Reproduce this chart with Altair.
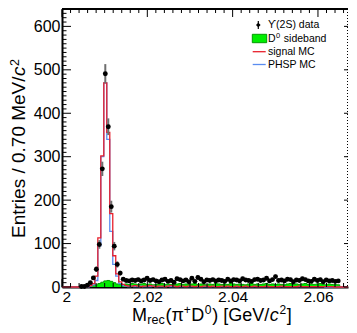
import altair as alt
import pandas as pd
import math

FONT = "Liberation Sans"
X_LO, BIN_W = 2.0, 0.0007
W, H = 286, 278
X_HI = X_LO + W / 4266.0     # keep the reference's x scale (0.02 <-> 85.3 px)
Y_HI = 640

# ---- data ----
data_first_bin = 6
data_counts = [1, 1, 4, 10, 21, 41, 98, 272, 491, 369, 185, 94, 52, 32, 18,
               15, 14, 16, 15, 17, 14, 16, 20, 15, 17,
               14, 12, 16, 18, 13, 15, 11, 19, 17, 14,
               16, 12, 20, 13, 22, 18, 12, 16, 15, 17,
               14, 16, 15, 13, 18, 14, 17, 16, 14, 19,
               16, 15, 13, 17, 18, 15, 16, 20, 14, 17,
               24, 15, 16, 14, 18, 17, 12, 16, 15, 19,
               17, 14, 13, 18, 15, 17, 12, 16, 14, 15,
               13, 14]

sideband = ([0] * 9 + [1, 3, 5, 8, 11, 14, 15, 13, 10, 7, 6, 5] +
            [7, 6, 8, 7, 6, 7, 8, 6, 7, 5, 6, 7, 8, 6, 7, 6, 5, 7, 8, 6,
             7, 6, 7, 8, 6, 7, 6, 5, 7, 6, 8, 7, 6, 7, 6, 8, 7, 6, 7, 6,
             5, 7, 8, 6, 7, 6, 7, 8, 6, 7, 6, 7, 6, 5, 7, 8, 6, 7, 6, 7,
             8, 6, 7, 6, 7, 8, 6, 5, 7, 6, 6, 5] + [0] * 5)

signal_mc = ([0] * 8 + [1, 3, 8, 25, 113, 302, 470, 356, 169, 72, 30, 12, 6] +
             [3, 2, 2, 3, 2, 1, 2, 2, 3, 2, 1, 2, 2, 1, 2, 3, 2, 1, 2, 2,
              1, 2, 2, 1, 2, 1, 2, 2, 1, 2, 1, 1, 2, 1, 2, 1, 1, 2, 1, 1,
              2, 1, 1, 2, 1, 1, 1, 2, 1, 1, 1, 1, 2, 1, 1, 1, 1, 1, 2, 1,
              1, 1, 1, 1, 1, 1, 1, 1, 1, 1, 0, 0, 0, 0, 0, 0, 0])

phsp_mc = ([0] * 9 + [2, 5, 15, 95, 300, 470, 340, 128, 52, 25, 8, 3] +
           [2, 1, 2, 1, 1, 2, 1, 1, 1, 2, 1, 1, 1, 1, 2, 1, 1, 1, 1, 1,
            1, 1, 1, 1, 1, 1, 1, 1, 1, 1, 1, 1, 1, 1, 1, 1, 1, 1, 1, 1,
            1, 1, 1, 1, 1, 1, 1, 1, 1, 1, 1, 1, 1, 1, 1, 1, 1, 1, 1, 1,
            1, 1, 1, 1, 1, 1, 1, 0, 0, 0, 0, 0, 0, 0, 0, 0, 0])

y_major = [0, 100, 200, 300, 400, 500, 600]
y_minor = [v for v in range(0, 641, 10) if v % 100 != 0]
x_major = [2.00, 2.02, 2.04, 2.06]
x_minor = [round(2.0 + 0.002 * i, 4) for i in range(35) if i % 10 != 0]
x_minor = [v for v in x_minor if v < X_HI]

# ---- tables ----
n_vis = int((X_HI - X_LO) / BIN_W)          # bins fully inside the drawn range


def step_df(vals):
    xs_ = [X_LO + BIN_W * i for i in range(n_vis + 1)] + [X_HI]
    ys_ = list(vals[:n_vis + 1]) + [vals[n_vis]]
    return pd.DataFrame({"x": xs_, "y": ys_})


pts = pd.DataFrame({
    "x": [X_LO + BIN_W * (data_first_bin + i + 0.5) for i in range(len(data_counts))],
    "y": data_counts,
})
pts["lo"] = pts["y"] - pts["y"].apply(math.sqrt)
pts["hi"] = pts["y"] + pts["y"].apply(math.sqrt)

xs = alt.Scale(domain=[X_LO, X_HI], nice=False, zero=False)
ys = alt.Scale(domain=[0, Y_HI], nice=False, zero=True)
xaxis = alt.Axis(values=x_major, title=None, ticks=False, grid=False,
                 labelExpr="datum.value == 2 ? '2' : format(datum.value, '.2f')",
                 labelFontSize=15.5, labelPadding=2, domainWidth=2)
yaxis = alt.Axis(values=y_major, title=None, ticks=False, grid=False,
                 labelFontSize=16, labelPadding=2, domainWidth=2)
X = alt.X("x:Q", scale=xs, axis=xaxis)
Y = alt.Y("y:Q", scale=ys, axis=yaxis)

layers = []
layers.append(alt.Chart(step_df(sideband)).mark_area(
    interpolate="step-after", color="#00ee00", opacity=1).encode(x=X, y=Y))
layers.append(alt.Chart(step_df(sideband)).mark_line(
    interpolate="step-after", color="#009a00", strokeWidth=1).encode(x=X, y=Y))
layers.append(alt.Chart(step_df(phsp_mc)).mark_line(
    interpolate="step-after", color="#5a8cf0", strokeWidth=1.3).encode(x=X, y=Y))
layers.append(alt.Chart(step_df(signal_mc)).mark_line(
    interpolate="step-after", color="#e8202c", strokeWidth=1.3).encode(x=X, y=Y))
layers.append(alt.Chart(pts).mark_rule(color="#6e6e6e", strokeWidth=2).encode(
    x=X, y=alt.Y("lo:Q", scale=ys, axis=yaxis), y2="hi:Q"))
layers.append(alt.Chart(pts).mark_circle(size=24, color="black", opacity=1).encode(x=X, y=Y))

# ---- frame & ticks (ROOT style, inward) ----
layers.append(alt.Chart(pd.DataFrame({"y": y_major})).mark_rule(color="black").encode(
    y=Y, x=alt.value(0), x2=alt.value(9)))
layers.append(alt.Chart(pd.DataFrame({"y": y_minor})).mark_rule(color="black").encode(
    y=Y, x=alt.value(0), x2=alt.value(4.5)))
layers.append(alt.Chart(pd.DataFrame({"y": y_major})).mark_rule(color="black").encode(
    y=Y, x=alt.value(W), x2=alt.value(W - 4)))
layers.append(alt.Chart(pd.DataFrame({"x": x_major})).mark_rule(color="black").encode(
    x=X, y=alt.value(0), y2=alt.value(8)))
layers.append(alt.Chart(pd.DataFrame({"x": x_minor})).mark_rule(color="black").encode(
    x=X, y=alt.value(0), y2=alt.value(4)))
layers.append(alt.Chart(pd.DataFrame({"x": x_major})).mark_rule(color="black").encode(
    x=X, y=alt.value(H), y2=alt.value(H - 8)))
layers.append(alt.Chart(pd.DataFrame({"x": x_minor})).mark_rule(color="black").encode(
    x=X, y=alt.value(H), y2=alt.value(H - 4)))
layers.append(alt.Chart(pd.DataFrame({"a": [0]})).mark_rule(color="black", strokeWidth=2).encode(
    x=alt.value(0), x2=alt.value(W), y=alt.value(0)))
layers.append(alt.Chart(pd.DataFrame({"a": [0]})).mark_rule(
    color="black", strokeWidth=1, strokeDash=[1, 2]).encode(
    x=alt.value(W - 0.5), y=alt.value(0), y2=alt.value(H)))

# ---- text helpers ----
AW = {' ': 278, '(': 333, ')': 333, '[': 278, ']': 278, '/': 278, '.': 278, '+': 584,
      '0': 556, '2': 556, '7': 556, 'D': 722, 'G': 778, 'e': 556, 'V': 667, 'M': 833,
      'r': 333, 'c': 500, 'π': 640, 'E': 667, 'n': 556, 't': 278, 'i': 222, 's': 500}


def tw(s, size):
    return sum(AW.get(ch, 556) for ch in s) / 1000.0 * size


dummy = pd.DataFrame({"a": [0]})


def txt(s, x, y, size, style="normal", angle=0, align="left", weight="normal"):
    return alt.Chart(dummy).mark_text(
        text=s, font=FONT, fontSize=size, fontStyle=style, fontWeight=weight,
        angle=angle, align=align, baseline="alphabetic", color="black").encode(
        x=alt.value(x), y=alt.value(y))


# x title: M_rec(pi+ D0) [GeV/c2]
F, S = 18, 12
bx, by = 70, 312
layers.append(txt("M", bx, by, F)); bx += tw("M", F) + 0.3
layers.append(txt("rec", bx, by + 2.5, 12.5)); bx += tw("rec", 12.5) + 0.8
layers.append(txt("(π", bx, by, F)); bx += tw("(π", F) + 0.8
layers.append(txt("+", bx, by - 7, S)); bx += tw("+", S) + 0.5
layers.append(txt("D", bx, by, F)); bx += tw("D", F) + 0.5
layers.append(txt("0", bx, by - 7, S)); bx += tw("0", S) + 0.8
layers.append(txt(") [GeV/", bx, by, F)); bx += tw(") [GeV/", F) + 0.5
layers.append(txt("c", bx, by, F, style="italic")); bx += tw("c", F) + 0.8
layers.append(txt("2", bx, by - 7, S)); bx += tw("2", S) + 0.5
layers.append(txt("]", bx, by, F))

# y title: Entries / 0.70 MeV/c2 (rotated)
FY = 19
ax, ay = -37, 229
layers.append(txt("Entries / 0.70 MeV/", ax, ay, FY, angle=270)); ay -= tw("Entries / 0.70 MeV/", FY) + 0.5
layers.append(txt("c", ax, ay, FY, style="italic", angle=270)); ay -= tw("c", FY) + 0.5
layers.append(txt("2", ax - 6, ay, 12.5, angle=270))

# legend
LF = 10.5
lx = 206
layers.append(alt.Chart(dummy).mark_rule(color="black", strokeWidth=1.2).encode(
    x=alt.value(196.3), y=alt.value(12), y2=alt.value(20)))
layers.append(alt.Chart(dummy).mark_point(shape="diamond", filled=True, size=22, color="black", opacity=1).encode(
    x=alt.value(196.3), y=alt.value(16)))
layers.append(txt("ϒ(2S) data", lx, 19.3, LF))
layers.append(alt.Chart(dummy).mark_rect(fill="#00ee00", stroke="#009a00", strokeWidth=1).encode(
    x=alt.value(190.3), x2=alt.value(204.7), y=alt.value(25.3), y2=alt.value(33.7)))
layers.append(txt("D", lx, 32.8, LF))
layers.append(txt("0", lx + tw("D", LF) + 0.3, 28.8, 7.5))
layers.append(txt("sideband", lx + tw("D", LF) + tw("0 ", 7.5) + 2, 32.8, LF))
layers.append(alt.Chart(dummy).mark_rule(color="#e8202c", strokeWidth=1.3).encode(
    x=alt.value(190.7), x2=alt.value(203.7), y=alt.value(42.7)))
layers.append(txt("signal MC", lx, 46, LF))
layers.append(alt.Chart(dummy).mark_rule(color="#5a8cf0", strokeWidth=1.3).encode(
    x=alt.value(190.7), x2=alt.value(203.7), y=alt.value(55.5)))
layers.append(txt("PHSP MC", lx, 59.3, LF))

chart = alt.layer(*layers).properties(
    width=W, height=H,
    autosize=alt.AutoSizeParams(type="none"),
    padding={"left": 54, "top": 1, "right": 1, "bottom": 38},
).configure_view(stroke=None).configure_axis(
    labelFont=FONT, labelColor="black", domainColor="black")

chart.save("out.html", embed_options={"renderer": "svg", "actions": False})
